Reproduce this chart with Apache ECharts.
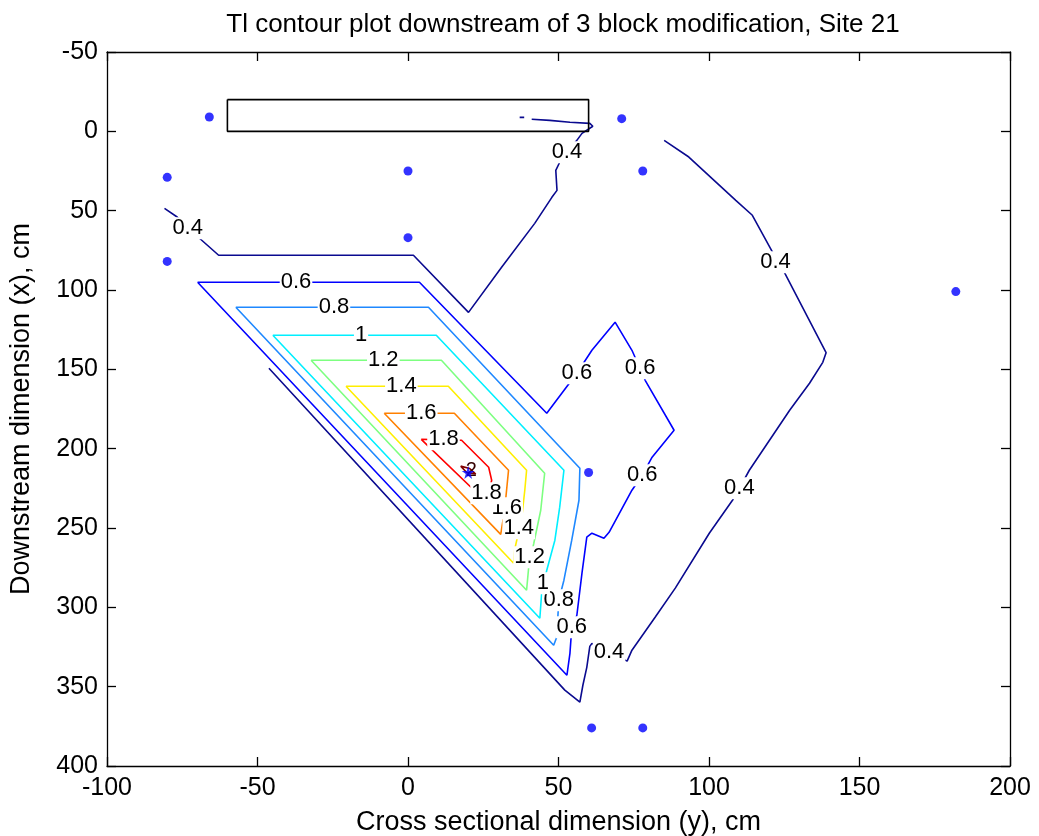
<!DOCTYPE html>
<html><head><meta charset="utf-8">
<script src="https://cdn.jsdelivr.net/npm/echarts@6/dist/echarts.min.js"></script>
<style>html,body{margin:0;padding:0;background:#fff}#chart{width:1039px;height:836px}</style>
</head><body><div id="chart"></div>
<script>
// ---- texts ----
const titleText = 'Tl contour plot downstream of 3 block modification, Site 21';
const xAxisTitle = 'Cross sectional dimension (y), cm';
const yAxisTitle = 'Downstream dimension (x), cm';
// ---- axis ranges / tick step ----
const xMin = -100, xMax = 200;
const yMin = -50, yMax = 400;
const tickStep = 50;

// ---- block (rectangle) outline ----
const blockOutline = [[-60,-20],[60,-20],[60,0],[-60,0],[-60,-20]];
// ---- sensor locations ----
const sensors = [[-66,-9],[-80,29],[-80,82],[0,25],[0,67],[71,-8],[78,25],[182,101],[60,215],[61,376],[78,376]];
const peakPoint = [[20,215]];

// ---- contour polylines (data coords) ----
const c04a = [[-80.9,48.5],[-76.7,54],[-73.2,61],[-68.9,68],[-62.9,78.1],[1.8,78.1],[20.1,114.1],[31.1,85.7],[42.1,58],[47.8,41.6],[49.5,37.2],[49.1,24.6],[50.4,19.5],[52.8,13.2],[56.1,5.7],[57.8,1.3],[61.4,-3.2],[60.4,-5],[53.8,-5.7],[47.1,-6.9],[41.1,-7.6]];
const c04dash = [[37.1,-8.8],[38.6,-8.8]];
const c04b = [[85.1,5.7],[93.3,16.2],[108.9,43.5],[114.4,52.9],[121.1,76.1],[122.1,82.5],[125,88.7],[138.9,139.5],[137.8,145.6],[133.4,158.8],[126.8,175.8],[113.4,213.6],[110.1,225],[107.8,232.5],[100.1,253.3],[88.8,287.9],[82.1,306.2],[74.4,327],[72.8,333.9],[66.8,328.3],[61.1,322.7],[60.4,324.6],[59.4,337.8],[58.1,349.1],[57.1,359.8],[52.1,352.2],[-46.2,149.3]];
const c06 = [[-69.9,95.1],[3.8,95.1],[46.1,177.7],[51.1,165.1],[56.1,152.5],[61.1,138],[68.8,120.3],[74.4,138],[78.8,156.9],[88.4,188.4],[81.1,205.4],[77.8,216.8],[74.4,226.2],[66.8,252.7],[65.1,256.5],[61.1,253.3],[59.4,255.8],[57.8,278.5],[56.1,305],[54.4,313.2],[53.8,329],[52.8,342.8],[-69.9,95.1]];
const c08 = [[-57.2,110.9],[6.8,110.9],[57.1,212.3],[56.8,232.5],[54.4,257.7],[51.8,282.9],[50.1,295.5],[49.4,318.8],[48.4,323.9],[-57.2,110.9]];
const c10 = [[-44.9,128.5],[9.4,128.5],[51.8,213.6],[50.4,236.9],[48.8,257.7],[46.1,276.6],[44.4,291.1],[43.8,306.9],[-44.9,128.5]];
const c12 = [[-32.2,144.3],[11.1,144.3],[45.4,215.5],[44.1,238.8],[41.8,259.6],[40.1,274.7],[39.4,289.2],[-32.2,144.3]];
const c14 = [[-20.6,160.7],[13.4,160.7],[39.4,213.6],[38.8,226.2],[37.8,243.2],[35.4,264],[35.1,272.2],[-20.6,160.7]];
const c16 = [[-7.9,177.7],[15.4,177.7],[33.4,213.6],[32.1,238.8],[30.8,254],[-7.9,177.7]];
const c18 = [[4.4,194.1],[17.8,194.7],[26.8,211.7],[27.8,219.9],[26.1,233.8],[4.4,194.1]];
const c20 = [[17.5,211],[20.5,212.5],[22.5,216],[19.5,215],[17.5,211]];

// ---- contour levels and their polylines ----
const levels = ['0.4','0.6','0.8','1','1.2','1.4','1.6','1.8','2'];
const levelLines = [[c04a,c04dash,c04b],[c06],[c08],[c10],[c12],[c14],[c16],[c18],[c20]];

// ---- inline contour labels [x, y, text] ----
const contourLabels = [
  [-73.2,61.1,'0.4'],[52.8,13.2,'0.4'],[122.1,82.5,'0.4'],[110.1,225,'0.4'],[66.8,328.3,'0.4'],
  [-37.2,95.1,'0.6'],[56.1,152.5,'0.6'],[77.1,149.3,'0.6'],[77.8,216.8,'0.6'],[54.4,312.5,'0.6'],
  [-24.6,110.9,'0.8'],[50.1,295.5,'0.8'],
  [-15.6,128.5,'1'],[44.8,284.8,'1'],
  [-8.2,144.3,'1.2'],[40.4,268.4,'1.2'],
  [-2.2,160.7,'1.4'],[36.8,250.2,'1.4'],
  [4.4,177.7,'1.6'],[32.8,237.6,'1.6'],
  [11.8,194,'1.8'],[26.1,228.1,'1.8']
];
const peakLabel = [[21,213.6,'2']];

// ---- styles ----
const levelColors = ['#0a0a8f','#0000ff','#1e88ff','#00efff','#7dff80','#ffee00','#ff8000','#ff0000','#800000'];
const FONT = 'Liberation Sans, Arial, Helvetica, sans-serif';
const CLEAR = 'rgba(0,0,0,0)';

const series = [];
levelLines.forEach((lines, i) => {
  lines.forEach(pts => {
    series.push({
      type: 'line', data: pts, symbol: 'none', silent: true, z: 2,
      lineStyle: { color: levelColors[i], width: 1.6 }, animation: false
    });
  });
});
series.push({
  type: 'line', data: blockOutline, symbol: 'none', z: 3, silent: true,
  lineStyle: { color: '#000', width: 1.6 }, animation: false
});
series.push({
  type: 'scatter', data: contourLabels, symbolSize: 2, z: 5, silent: true,
  itemStyle: { color: CLEAR },
  label: { show: true, position: 'inside', formatter: p => p.data[2], opacity: 1,
    fontSize: 22, color: '#000', fontFamily: FONT, backgroundColor: '#fff', padding: [0, 1] },
  animation: false
});
series.push({
  type: 'scatter', data: peakLabel, symbolSize: 2, z: 5, silent: true,
  itemStyle: { color: CLEAR },
  label: { show: true, position: 'inside', formatter: p => p.data[2], opacity: 1,
    fontSize: 20, color: '#300', fontFamily: FONT },
  animation: false
});
series.push({
  type: 'scatter', data: sensors, symbol: 'circle', symbolSize: 9, z: 6,
  itemStyle: { color: '#0000ff' }, animation: false
});
series.push({
  type: 'scatter', data: peakPoint, z: 7,
  symbol: 'path://M50,0 L61,35 L98,35 L68,57 L79,91 L50,70 L21,91 L32,57 L2,35 L39,35 Z',
  symbolSize: 13, itemStyle: { color: '#0000ff' }, animation: false
});

const axisCommon = {
  type: 'value', splitLine: { show: false },
  axisLine: { show: true, onZero: false, lineStyle: { color: '#000', width: 1.3 } },
  axisTick: { show: true, inside: true, length: 9, lineStyle: { color: '#000', width: 1.3 } }
};

const chart = echarts.init(document.getElementById('chart'), null, { renderer: 'canvas' });
chart.setOption({
  backgroundColor: '#fff',
  animation: false,
  title: { text: titleText, left: 558, textAlign: 'center', top: 7,
    textStyle: { fontSize: 26, fontWeight: 'normal', color: '#000', fontFamily: FONT } },
  grid: { left: 107, right: 29, top: 52, bottom: 70, containLabel: false, outerBoundsMode: 'none' },
  xAxis: [
    Object.assign({}, axisCommon, { position: 'bottom', min: xMin, max: xMax, interval: tickStep,
      axisLabel: { fontSize: 25, color: '#000', margin: 10, fontFamily: FONT },
      name: xAxisTitle, nameLocation: 'middle', nameGap: 43,
      nameTextStyle: { fontSize: 27, color: '#000', fontFamily: FONT } }),
    Object.assign({}, axisCommon, { position: 'top', min: xMin, max: xMax, interval: tickStep,
      axisLabel: { show: false } })
  ],
  yAxis: [
    Object.assign({}, axisCommon, { position: 'left', inverse: true, min: yMin, max: yMax, interval: tickStep,
      axisLabel: { fontSize: 25, color: '#000', margin: 9, fontFamily: FONT },
      name: yAxisTitle, nameLocation: 'middle', nameGap: 72,
      nameTextStyle: { fontSize: 27, color: '#000', fontFamily: FONT } }),
    Object.assign({}, axisCommon, { position: 'right', inverse: true, min: yMin, max: yMax, interval: tickStep,
      axisLabel: { show: false } })
  ],
  series: series
});
</script></body></html>
